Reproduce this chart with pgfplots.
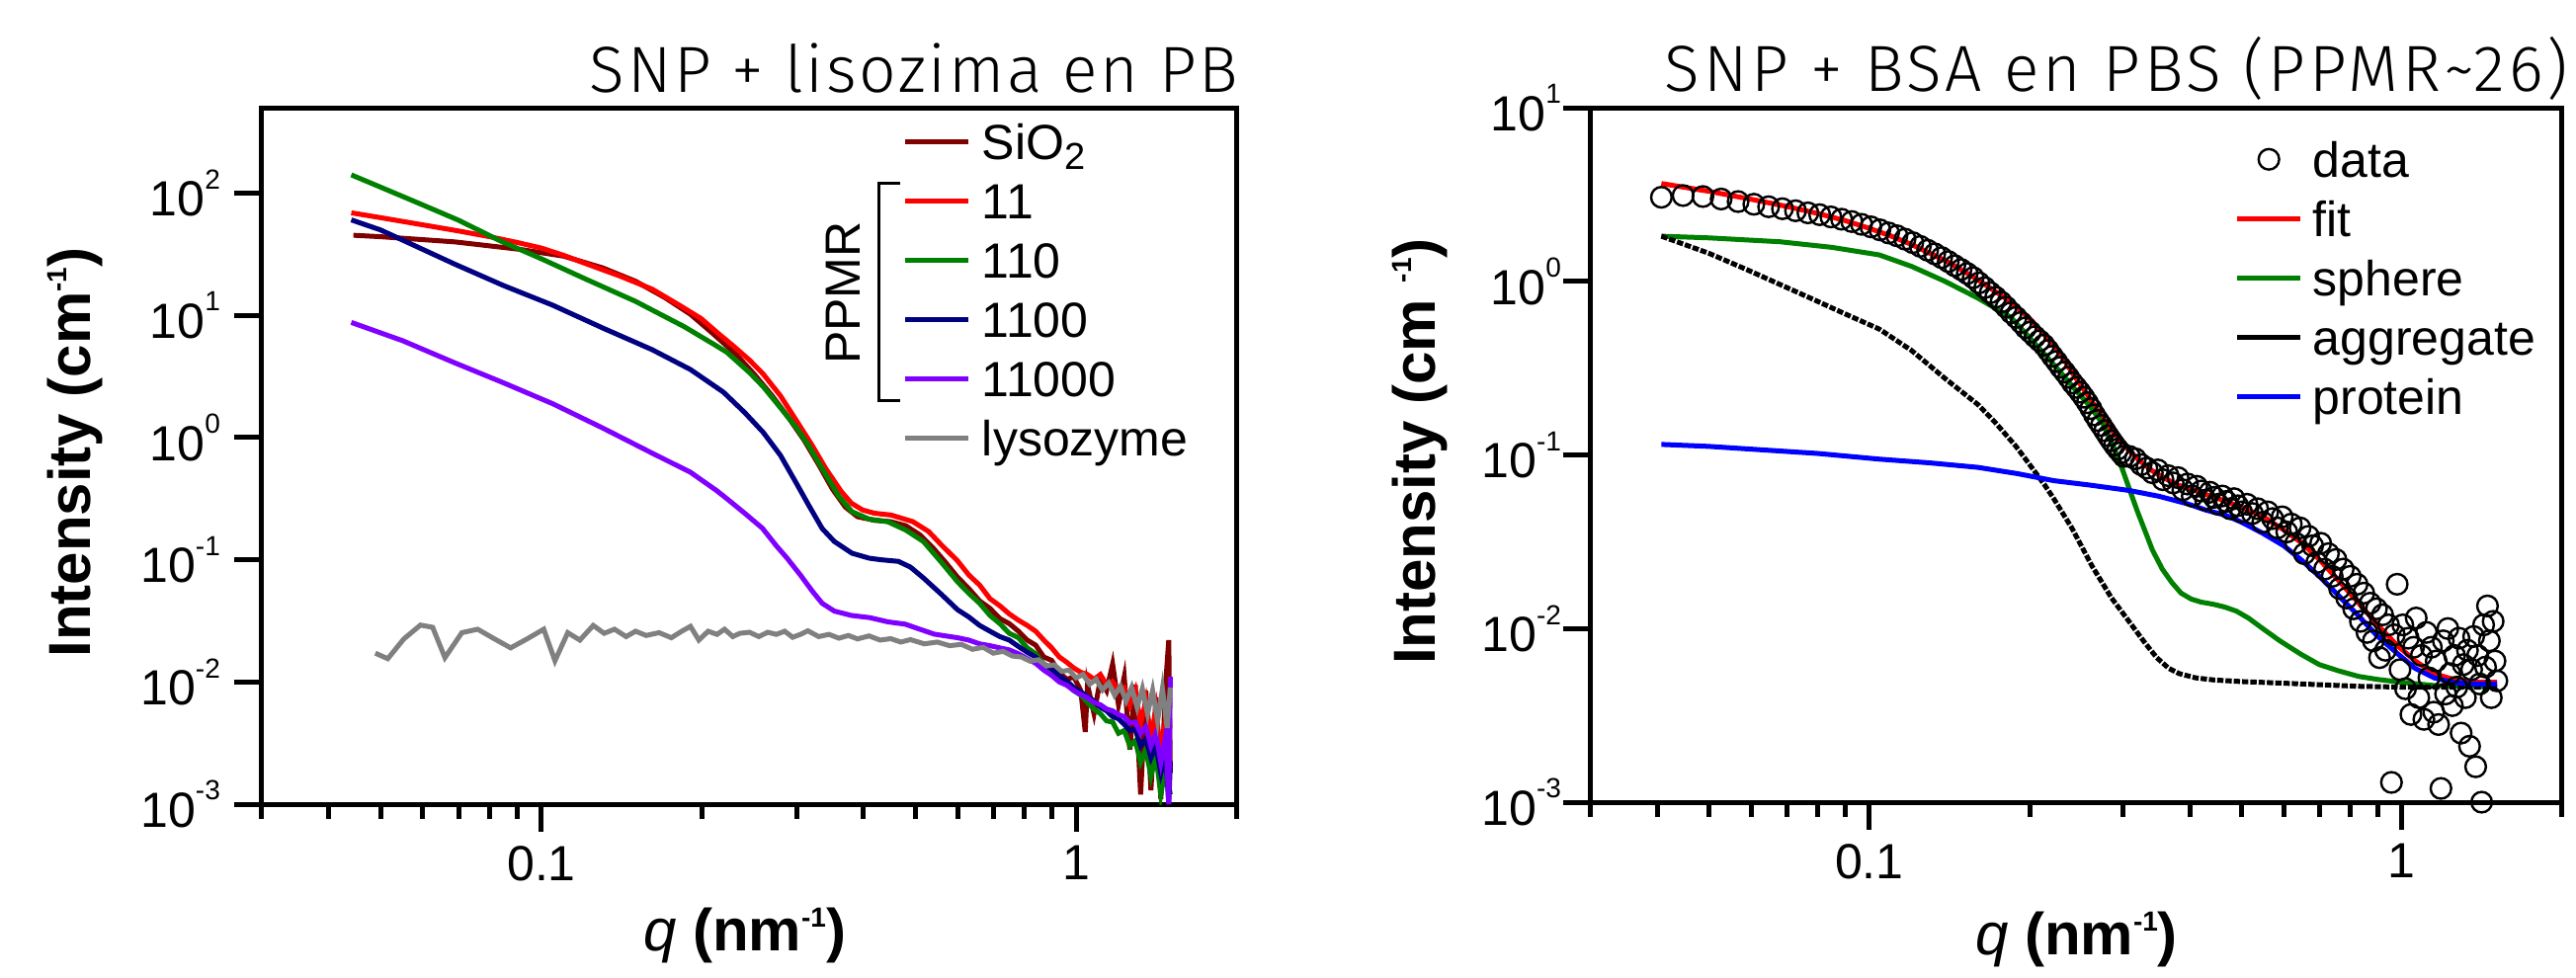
\documentclass[border=0pt]{standalone}
\usepackage{fontspec}
\setmainfont{Liberation Sans}
\newfontfamily\titlefontA[LetterSpace=4]{Fira Sans Light}
\newfontfamily\titlefontB[LetterSpace=6]{Fira Sans Light}
\usepackage{pgfplots}
\pgfplotsset{compat=1.18}

\definecolor{sio2}{RGB}{128,0,0}
\definecolor{cA}{RGB}{255,0,0}
\definecolor{cB}{RGB}{0,128,0}
\definecolor{cC}{RGB}{0,0,128}
\definecolor{cD}{RGB}{128,0,255}
\definecolor{cE}{RGB}{128,128,128}
\definecolor{pblue}{RGB}{0,0,255}

\newcommand{\tsup}[1]{\raisebox{6.9pt}{\fontsize{7}{7}\selectfont #1}}
\newcommand{\lsup}[1]{\raisebox{6pt}{\fontsize{7}{7}\selectfont\bfseries #1}}

\begin{document}
\begin{tikzpicture}[x=1pt,y=1pt]
\useasboundingbox (0,0) rectangle (651.75,247.25);

% ---------------- left panel ----------------
\begin{axis}[
  scale only axis,
  xmode=log, ymode=log,
  xmin=0.03, xmax=2,
  axis line style={line width=1.25pt},
  tick style={line width=1.25pt, black},
  tick align=outside,
  tick pos=left,
  xtick={0.1,1},
  xticklabels={0.1,1},
  minor xtick={0.03,0.04,0.05,0.06,0.07,0.08,0.09,0.2,0.3,0.4,0.5,0.6,0.7,0.8,0.9,2},
  yminorticks=false,
  major tick length=7pt,
  minor tick length=3.75pt,
  tick label style={font=\fontsize{12.5}{15}\selectfont},
  legend cell align=left,
  legend style={draw=none, fill=none, inner sep=0pt, outer sep=0pt,
    row sep=0pt, column sep=2.75pt, font=\fontsize{12.5}{15}\selectfont,
    nodes={inner sep=0pt, text height=10pt, text depth=5pt},
    at={(axis description cs:0.6575,0.983)}, anchor=north west},
  legend image code/.code={\draw[mark repeat=2, mark phase=2, #1] plot coordinates {(0pt,2pt) (8pt,2pt) (16pt,2pt)};},
  at={(66.25pt,43.75pt)}, anchor=south west,
  width=246.75pt, height=176.25pt,
  ymin=1e-3, ymax=500,
  ytick={1e-3,1e-2,1e-1,1,10,100},
  yticklabels={10\tsup{-3},10\tsup{-2},10\tsup{-1},10\tsup{0},10\tsup{1},10\tsup{2}},
  title={SNP + lisozima en PB},
  title style={font=\titlefontA\fontsize{16.5}{16.5}\selectfont, inner sep=0pt, anchor=base east, yshift=-6pt, at={(axis description cs:1.002,1.0213)}},
  xlabel={\textit{q} \textbf{(nm\lsup{-1})}},
  xlabel style={font=\fontsize{15}{16}\selectfont, inner sep=0pt, anchor=base, at={(axis description cs:0.495,-0.2113)}},
  ylabel={\textbf{Intensity (cm\lsup{-1})}},
  ylabel style={font=\fontsize{15}{16}\selectfont, inner sep=0pt, anchor=base, at={(axis description cs:-0.176,0.505)}},
]
\addplot[sio2, line width=1.25pt, mark=none] coordinates {
(0.0445,45.2) (0.05,44) (0.0689,39.9) (0.0914,34.6) (0.11,30.5) (0.13,24.5) (0.15,19) (0.17,14) (0.19,10.2) (0.21,7.0) (0.23,4.9) (0.25,3.3) (0.27,2.2) (0.29,1.45) (0.31,0.95) (0.33,0.6) (0.35,0.38) (0.37,0.27) (0.39,0.225) (0.42,0.21) (0.45,0.205) (0.48,0.19) (0.51,0.16) (0.54,0.125) (0.57,0.095) (0.60,0.072)
(0.63,0.058) (0.66,0.046) (0.69,0.040) (0.72,0.033) (0.75,0.030) (0.78,0.026) (0.81,0.022) (0.84,0.020) (0.87,0.016) (0.90,0.015) (0.93,0.012) (0.96,0.0105) (0.99,0.011) (1.02,0.0085) (1.04,0.0039) (1.05,0.0095) (1.08,0.0055) (1.11,0.0105) (1.14,0.0085) (1.17,0.014) (1.20,0.0065) (1.23,0.011) (1.26,0.0028) (1.29,0.0095) (1.32,0.0012) (1.35,0.0085) (1.38,0.0013) (1.41,0.0075) (1.44,0.0011) (1.47,0.0095) (1.49,0.022) (1.50,0.0018)};
\addlegendentry{SiO\raisebox{-2.5pt}{\fontsize{9.5}{10}\selectfont 2}}
\addplot[cA, line width=1.25pt, mark=none] coordinates {
(0.0441,69) (0.05,63) (0.06,55) (0.07,49) (0.08,44) (0.09,39.5) (0.10,35.5) (0.11,31) (0.121,26.5) (0.14,21) (0.161,16.4) (0.18,12.3) (0.199,9.4) (0.215,7.0) (0.229,5.57) (0.245,4.3) (0.26,3.3) (0.28,2.19) (0.30,1.37) (0.321,0.86) (0.34,0.56) (0.364,0.36) (0.38,0.29) (0.399,0.255) (0.42,0.24) (0.451,0.232) (0.495,0.205) (0.53,0.17) (0.56,0.132)
(0.60,0.098) (0.63,0.075) (0.66,0.062) (0.69,0.048) (0.72,0.042) (0.75,0.036) (0.78,0.032) (0.81,0.029) (0.84,0.026) (0.87,0.022) (0.90,0.019) (0.93,0.016) (0.96,0.0145) (0.99,0.013) (1.02,0.012) (1.05,0.0115) (1.08,0.0105) (1.11,0.0115) (1.14,0.0095) (1.17,0.010) (1.20,0.0085) (1.23,0.009) (1.26,0.0065) (1.29,0.0085) (1.32,0.0045) (1.35,0.007) (1.38,0.0035) (1.41,0.006) (1.44,0.0025) (1.47,0.005) (1.50,0.0042)};
\addlegendentry{11}
\addplot[cB, line width=1.25pt, mark=none] coordinates {
(0.0441,141) (0.05,112) (0.06,80) (0.07,60) (0.084,40.4) (0.10,29) (0.121,19.8) (0.15,13) (0.185,8.07) (0.21,5.8) (0.222,5.0) (0.245,3.4) (0.26,2.6) (0.28,1.75) (0.30,1.2) (0.316,0.86) (0.34,0.50) (0.36,0.33) (0.381,0.247) (0.41,0.215) (0.444,0.205) (0.48,0.175) (0.518,0.141) (0.56,0.095)
(0.60,0.066) (0.63,0.053) (0.66,0.044) (0.69,0.035) (0.72,0.030) (0.75,0.025) (0.78,0.023) (0.81,0.019) (0.84,0.017) (0.87,0.014) (0.90,0.0125) (0.93,0.0105) (0.96,0.0098) (0.99,0.0085) (1.02,0.0078) (1.05,0.0068) (1.08,0.0060) (1.11,0.0055) (1.14,0.0048) (1.17,0.0047) (1.20,0.0038) (1.23,0.0040) (1.26,0.0030) (1.29,0.0033) (1.32,0.0022) (1.35,0.0028) (1.38,0.0017) (1.41,0.0025) (1.44,0.0012) (1.47,0.0020) (1.50,0.0012)};
\addlegendentry{110}
\addplot[cC, line width=1.25pt, mark=none] coordinates {
(0.0441,60.4) (0.05,50) (0.0689,26.2) (0.085,17.5) (0.105,12.1) (0.13,7.9) (0.161,5.24) (0.19,3.6) (0.219,2.35) (0.24,1.6) (0.26,1.1) (0.28,0.713) (0.30,0.42) (0.316,0.28) (0.335,0.18) (0.353,0.141) (0.381,0.113) (0.41,0.103) (0.431,0.100) (0.465,0.097) (0.49,0.087) (0.518,0.071) (0.56,0.052)
(0.60,0.039) (0.63,0.034) (0.66,0.029) (0.69,0.026) (0.72,0.0235) (0.75,0.022) (0.78,0.0195) (0.81,0.0175) (0.84,0.016) (0.87,0.014) (0.90,0.0128) (0.93,0.0112) (0.96,0.0102) (0.99,0.0090) (1.02,0.0083) (1.05,0.0076) (1.08,0.0070) (1.11,0.0062) (1.14,0.0058) (1.17,0.0052) (1.20,0.0050) (1.23,0.0045) (1.26,0.0040) (1.29,0.0041) (1.32,0.0030) (1.35,0.0034) (1.38,0.0024) (1.41,0.0030) (1.44,0.0018) (1.47,0.0026) (1.49,0.0010) (1.50,0.0022)};
\addlegendentry{1100}
\addplot[cD, line width=1.25pt, mark=none] coordinates {
(0.0441,8.75) (0.055,6.2) (0.0689,4.08) (0.085,2.8) (0.105,1.89) (0.13,1.2) (0.161,0.746) (0.19,0.52) (0.213,0.366) (0.222,0.317) (0.24,0.24) (0.259,0.181) (0.275,0.13) (0.288,0.103) (0.305,0.075) (0.321,0.0554) (0.335,0.044) (0.353,0.038) (0.38,0.035) (0.411,0.0336) (0.445,0.031) (0.479,0.0297) (0.51,0.027) (0.543,0.0246)
(0.60,0.023) (0.63,0.022) (0.66,0.0205) (0.69,0.0198) (0.72,0.019) (0.75,0.0183) (0.78,0.017) (0.81,0.0155) (0.84,0.0142) (0.87,0.0125) (0.90,0.0113) (0.93,0.0100) (0.96,0.0094) (0.99,0.0085) (1.02,0.0079) (1.05,0.0074) (1.08,0.0068) (1.11,0.0065) (1.14,0.0060) (1.17,0.0058) (1.20,0.0054) (1.23,0.0052) (1.26,0.0046) (1.29,0.0047) (1.32,0.0038) (1.35,0.0043) (1.38,0.0030) (1.41,0.0038) (1.44,0.0022) (1.47,0.0036) (1.49,0.0010) (1.50,0.011)};
\addlegendentry{11000}
\addplot[cE, line width=1.25pt, mark=none] coordinates {
(0.0489,0.0172) (0.0516,0.0155) (0.0553,0.0225) (0.0594,0.0292) (0.0626,0.028) (0.066,0.0158) (0.071,0.0253) (0.076,0.027) (0.0817,0.0225) (0.0876,0.019) (0.094,0.0225) (0.101,0.027) (0.106,0.0149) (0.112,0.0253) (0.118,0.022) (0.125,0.029) (0.131,0.025) (0.137,0.027) (0.144,0.0235) (0.150,0.026) (0.157,0.024) (0.166,0.0253) (0.175,0.023) (0.183,0.026) (0.190,0.0285) (0.197,0.022) (0.205,0.026) (0.213,0.0245) (0.22,0.027) (0.228,0.0235) (0.235,0.025) (0.245,0.0255) (0.255,0.0235) (0.265,0.0255) (0.275,0.0245) (0.285,0.026) (0.295,0.0232) (0.305,0.0245) (0.315,0.0262) (0.33,0.0235) (0.345,0.0245) (0.36,0.0228) (0.375,0.024) (0.39,0.0225) (0.41,0.0238) (0.43,0.022) (0.45,0.0226) (0.47,0.0212) (0.49,0.0222) (0.52,0.0205) (0.55,0.0212) (0.58,0.0198) (0.61,0.0203) (0.64,0.0185) (0.67,0.0192) (0.70,0.0172) (0.73,0.0178) (0.76,0.0163) (0.79,0.0160) (0.82,0.0148) (0.85,0.0152) (0.88,0.0135) (0.91,0.0138) (0.94,0.0122) (0.97,0.0125) (1.00,0.0108) (1.03,0.0115) (1.06,0.0096) (1.09,0.0105) (1.12,0.0086) (1.15,0.0098) (1.18,0.0078) (1.21,0.0092) (1.24,0.0070) (1.27,0.0090) (1.30,0.0062) (1.33,0.0088) (1.36,0.0055) (1.39,0.0085) (1.42,0.0048) (1.45,0.0088) (1.48,0.0042) (1.50,0.0090)};
\addlegendentry{lysozyme}
\draw[line width=0.8pt] (axis description cs:0.655,0.891) -- (axis description cs:0.633,0.891) -- (axis description cs:0.633,0.580) -- (axis description cs:0.655,0.580);
\node[rotate=90, font=\fontsize{12.5}{15}\selectfont, inner sep=0pt] at (axis description cs:0.596,0.734) {PPMR};
\end{axis}

% ---------------- right panel ----------------
\begin{axis}[
  scale only axis,
  xmode=log, ymode=log,
  xmin=0.03, xmax=2,
  axis line style={line width=1.25pt},
  tick style={line width=1.25pt, black},
  tick align=outside,
  tick pos=left,
  xtick={0.1,1},
  xticklabels={0.1,1},
  minor xtick={0.03,0.04,0.05,0.06,0.07,0.08,0.09,0.2,0.3,0.4,0.5,0.6,0.7,0.8,0.9,2},
  yminorticks=false,
  major tick length=7pt,
  minor tick length=3.75pt,
  tick label style={font=\fontsize{12.5}{15}\selectfont},
  legend cell align=left,
  legend style={draw=none, fill=none, inner sep=0pt, outer sep=0pt,
    row sep=0pt, column sep=2.5pt, font=\fontsize{12.5}{15}\selectfont,
    nodes={inner sep=0pt, text height=10pt, text depth=5pt},
    at={(axis description cs:0.663,0.957)}, anchor=north west},
  legend image code/.code={\draw[mark repeat=2, mark phase=2, #1] plot coordinates {(0pt,2pt) (8pt,2pt) (16pt,2pt)};},
  at={(402.5pt,44.25pt)}, anchor=south west,
  width=245.75pt, height=175.75pt,
  ymin=1e-3, ymax=10,
  ytick={1e-3,1e-2,1e-1,1,10},
  yticklabels={10\tsup{-3},10\tsup{-2},10\tsup{-1},10\tsup{0},10\tsup{1}},
  yticklabel style={xshift=3pt},
  title={SNP + BSA en PBS (PPMR\textasciitilde 26)},
  title style={font=\titlefontB\fontsize{16.5}{16.5}\selectfont, inner sep=0pt, anchor=base east, yshift=-6pt, at={(axis description cs:1.007,1.024)}},
  xlabel={\textit{q} \textbf{(nm\lsup{-1})}},
  xlabel style={font=\fontsize{15}{16}\selectfont, inner sep=0pt, anchor=base, at={(axis description cs:0.5,-0.22)}},
  ylabel={\textbf{Intensity (cm \lsup{-1})}},
  ylabel style={font=\fontsize{15}{16}\selectfont, inner sep=0pt, anchor=base, at={(axis description cs:-0.160,0.505)}},
]
\addplot[only marks, mark=o, mark size=2.6pt, mark options={line width=0.6pt, black}, black] coordinates {
(0.0407,3.05) (0.0447,3.12) (0.0487,3.08) (0.0527,2.98) (0.0567,2.88) (0.0607,2.78) (0.0647,2.69) (0.0687,2.62) (0.0727,2.55) (0.0767,2.48) (0.0807,2.42) (0.0847,2.35) (0.0887,2.28) (0.0927,2.21) (0.0967,2.13) (0.1007,2.06) (0.1047,1.98) (0.1087,1.90) (0.1127,1.83) (0.1167,1.75) (0.1207,1.67) (0.1247,1.59) (0.1287,1.51) (0.1327,1.44) (0.1367,1.37) (0.1407,1.30) (0.1447,1.23) (0.1487,1.17) (0.1527,1.11) (0.1567,1.05)
(0.1607,0.98) (0.1647,0.92) (0.1687,0.86) (0.1727,0.81) (0.1767,0.76) (0.1807,0.71) (0.1847,0.66) (0.1887,0.62) (0.1927,0.58) (0.1967,0.54) (0.2007,0.51) (0.2047,0.48) (0.2087,0.455) (0.2127,0.43) (0.2167,0.40) (0.2207,0.37) (0.2247,0.345) (0.2287,0.32) (0.2327,0.30) (0.2367,0.28) (0.2407,0.26) (0.2447,0.245) (0.2487,0.23) (0.2527,0.215) (0.2567,0.20) (0.2607,0.185) (0.2647,0.17) (0.2687,0.158) (0.2727,0.148) (0.2767,0.138) (0.2807,0.129) (0.2847,0.121) (0.2887,0.114) (0.2927,0.108) (0.2967,0.103) (0.3007,0.098)
(0.308,0.098) (0.316,0.095) (0.324,0.088) (0.332,0.084) (0.340,0.079) (0.348,0.082) (0.356,0.072) (0.364,0.076) (0.372,0.069) (0.380,0.074) (0.388,0.063) (0.396,0.068) (0.404,0.058) (0.412,0.066) (0.420,0.062) (0.428,0.055) (0.436,0.061) (0.444,0.057) (0.452,0.052) (0.460,0.058) (0.468,0.054) (0.476,0.049) (0.484,0.056) (0.492,0.051) (0.500,0.047)
(0.512,0.052) (0.524,0.046) (0.536,0.049) (0.548,0.041) (0.560,0.047) (0.572,0.043) (0.584,0.038) (0.596,0.044) (0.608,0.036) (0.620,0.040) (0.632,0.031) (0.644,0.038) (0.656,0.027) (0.668,0.034) (0.680,0.030) (0.692,0.024) (0.704,0.031) (0.716,0.022) (0.728,0.027) (0.740,0.020) (0.752,0.025) (0.764,0.017) (0.776,0.022) (0.788,0.015) (0.800,0.020) (0.812,0.013) (0.824,0.018) (0.836,0.011) (0.848,0.016) (0.860,0.0095) (0.872,0.014) (0.884,0.0085) (0.896,0.013) (0.908,0.0068) (0.920,0.012) (0.932,0.0075) (0.944,0.0105) (0.956,0.0013) (0.968,0.0092) (0.980,0.0180) (0.992,0.0058) (1.004,0.0105) (1.016,0.0045) (1.028,0.0088) (1.040,0.0032) (1.052,0.0078) (1.064,0.0115) (1.076,0.0040) (1.088,0.0070) (1.100,0.0030) (1.112,0.0095) (1.124,0.0052) (1.136,0.0078) (1.148,0.0033) (1.160,0.0065) (1.172,0.0028) (1.184,0.0012) (1.196,0.0085) (1.208,0.0042) (1.220,0.0100) (1.232,0.0055) (1.244,0.0036) (1.256,0.0070) (1.268,0.0046) (1.280,0.0088) (1.292,0.0025) (1.304,0.0062) (1.316,0.0040) (1.328,0.0075) (1.340,0.0021) (1.352,0.0058) (1.364,0.0090) (1.376,0.0016) (1.388,0.0070) (1.400,0.0048) (1.412,0.0010) (1.424,0.0105) (1.436,0.0060) (1.448,0.0135) (1.460,0.0085) (1.472,0.0040) (1.484,0.0110) (1.496,0.0065) (1.508,0.0050)};
\addlegendentry{data}
\addplot[cA, line width=1.25pt, mark=none] coordinates {
(0.0407,3.66) (0.045,3.48) (0.05,3.3) (0.06,2.97) (0.07,2.70) (0.08,2.46) (0.09,2.24) (0.10,2.02) (0.11,1.82) (0.12,1.63) (0.13,1.45) (0.14,1.30) (0.15,1.15) (0.16,1.02) (0.17,0.90) (0.18,0.80) (0.19,0.70) (0.20,0.61) (0.21,0.52) (0.22,0.44) (0.23,0.37) (0.24,0.30) (0.25,0.25) (0.26,0.21) (0.27,0.175) (0.28,0.15) (0.29,0.13) (0.30,0.115) (0.32,0.094) (0.34,0.081) (0.36,0.073) (0.38,0.067) (0.40,0.064) (0.43,0.059) (0.46,0.055) (0.50,0.050) (0.55,0.044) (0.60,0.037) (0.65,0.031) (0.70,0.025) (0.76,0.019) (0.83,0.014) (0.90,0.0105) (0.98,0.0080) (1.06,0.0065) (1.15,0.0055) (1.25,0.0051) (1.35,0.0049) (1.51,0.0049)};
\addlegendentry{fit}
\addplot[cB, line width=1.25pt, mark=none] coordinates {
(0.0407,1.82) (0.05,1.78) (0.068,1.69) (0.085,1.57) (0.1044,1.42) (0.12,1.22) (0.1387,1.0) (0.16,0.80) (0.1844,0.62) (0.198,0.49) (0.215,0.37) (0.2285,0.30) (0.2415,0.245) (0.258,0.195) (0.275,0.15) (0.288,0.11) (0.299,0.082) (0.31,0.06) (0.319,0.047) (0.33,0.036) (0.34,0.0284) (0.355,0.022) (0.37,0.0184) (0.385,0.016) (0.402,0.0148) (0.42,0.0142) (0.443,0.0138) (0.465,0.0133) (0.489,0.0126) (0.515,0.0115) (0.548,0.0100) (0.59,0.0085) (0.647,0.0071) (0.70,0.0062) (0.762,0.0057) (0.83,0.0053) (0.898,0.0051) (1.0,0.0049) (1.148,0.0047) (1.3,0.00465) (1.51,0.0046)};
\addlegendentry{sphere}
\addplot[black, line width=1.25pt, dash pattern=on 1.6pt off 0.5pt, mark=none, forget plot] coordinates {
(0.0407,1.82) (0.05,1.45) (0.059,1.165) (0.0785,0.787) (0.09,0.65) (0.1044,0.531) (0.12,0.40) (0.1387,0.276) (0.15,0.228) (0.16,0.195) (0.172,0.155) (0.1886,0.112) (0.20,0.088) (0.2128,0.068) (0.222,0.056) (0.24,0.038) (0.262,0.0229) (0.285,0.015) (0.308,0.0109) (0.33,0.0082) (0.3465,0.0068) (0.365,0.0059) (0.382,0.0055) (0.41,0.0052) (0.443,0.00506) (0.5,0.00495) (0.596,0.00485) (0.70,0.00475) (0.828,0.00465) (1.0,0.0046) (1.2,0.0046) (1.51,0.0046)};
\addlegendimage{black, line width=1.25pt, solid, mark=none}
\addlegendentry{aggregate}
\addplot[pblue, line width=1.25pt, mark=none] coordinates {
(0.0407,0.115) (0.05,0.112) (0.06,0.108) (0.08,0.102) (0.1044,0.0946) (0.13,0.090) (0.16,0.0848) (0.19,0.078) (0.222,0.0711) (0.26,0.067) (0.308,0.0624) (0.35,0.0578) (0.395,0.0524) (0.43,0.048) (0.466,0.045) (0.50,0.041) (0.548,0.0354) (0.60,0.030) (0.647,0.0249) (0.70,0.020) (0.762,0.0154) (0.83,0.0118) (0.898,0.0091) (0.98,0.0072) (1.059,0.0059) (1.15,0.0052) (1.247,0.0049) (1.35,0.0048) (1.51,0.0048)};
\addlegendentry{protein}
\end{axis}
\end{tikzpicture}
\end{document}
